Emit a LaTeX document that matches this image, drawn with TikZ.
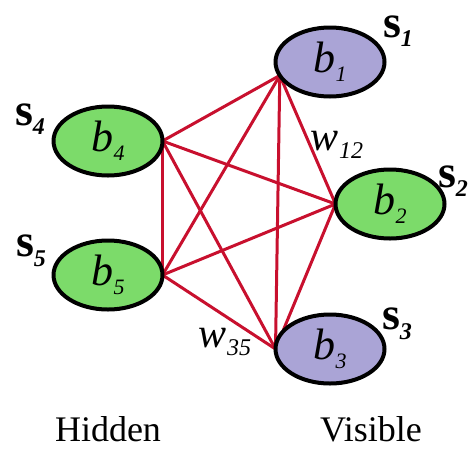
\documentclass[tikz,border=0pt]{standalone}
\usepackage{fontspec}
\setmainfont{Liberation Serif}
\usetikzlibrary{shapes.geometric,backgrounds}
\definecolor{visblue}{RGB}{170,164,214}
\definecolor{hidgreen}{RGB}{124,219,106}
\definecolor{linkred}{RGB}{200,16,46}
% letter with an italic digit index below
\newcommand{\idx}[3]{#1\raisebox{-0.45ex}{\fontsize{#3}{#3}\selectfont\itshape #2}}

\begin{document}
\begin{tikzpicture}[x=1pt, y=-1pt, line cap=round, line join=round]
\tikzset{unit/.style={ellipse, draw=black, line width=4pt, minimum width=109pt, minimum height=69pt, inner sep=0pt, outer sep=0pt, font=\fontsize{44}{44}\selectfont\itshape},
  vis/.style={unit, fill=visblue}, hid/.style={unit, fill=hidgreen},
  link/.style={draw=linkred, line width=3pt},
  state/.style={inner sep=0pt, font=\fontsize{46}{46}\selectfont\bfseries},
  weight/.style={inner sep=0pt, font=\fontsize{42}{42}\selectfont\itshape},
  caption/.style={inner sep=0pt, anchor=base, text depth=0pt, font=\fontsize{36}{36}\selectfont}}
\useasboundingbox (0,0) rectangle (470,448);

% units
\node[vis] (b1) at (330,62)  {\idx{b}{1}{22}};
\node[hid] (b2) at (390,204) {\idx{b}{2}{22}};
\node[vis] (b3) at (330,349) {\idx{b}{3}{22}};
\node[hid] (b4) at (108,141) {\idx{b}{4}{22}};
\node[hid] (b5) at (108,275) {\idx{b}{5}{22}};

% contact points
\coordinate (p1) at (b1.195);
\coordinate (p2) at (b2.west);
\coordinate (p3) at (b3.west);
\coordinate (p4) at (b4.east);
\coordinate (p5) at (b5.east);

% links (every pair)
\begin{scope}[on background layer]
\foreach \i/\j in {1/2,1/3,1/4,1/5,2/3,2/4,2/5,3/4,3/5,4/5}
  \draw[link] (p\i) -- (p\j);
\end{scope}

% states
\node[state] (s1) at (398,31)  {\idx{s}{1}{24}};
\node[state] (s2) at (453,181) {\idx{s}{2}{24}};
\node[state] (s3) at (397,324) {\idx{s}{3}{24}};
\node[state] (s4) at (30,119)  {\idx{s}{4}{24}};
\node[state] (s5) at (31,251)  {\idx{s}{5}{24}};

% weights
\node[weight] (w12) at (337,145) {\idx{w}{12}{24}};
\node[weight] (w35) at (225,342) {\idx{w}{35}{24}};

% layers
\node[caption] (hidden)  at (108,441) {Hidden};
\node[caption] (visible) at (371,441) {Visible};
\end{tikzpicture}
\end{document}
